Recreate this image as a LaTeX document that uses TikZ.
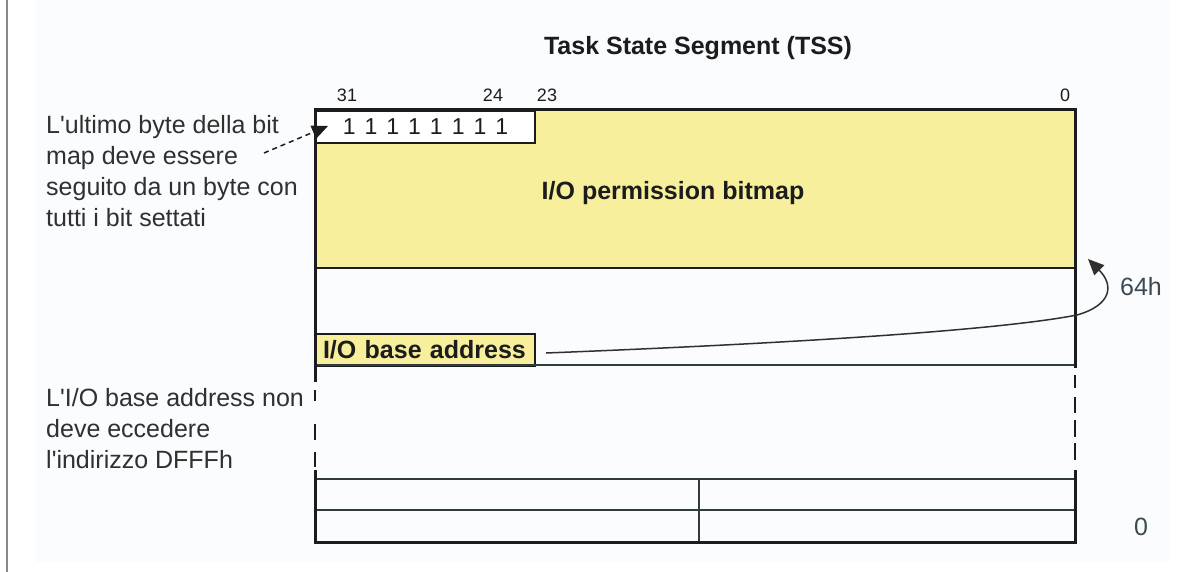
\documentclass[tikz,border=0pt]{standalone}
\usepackage{fontspec}
\setmainfont{Liberation Sans}
\usetikzlibrary{arrows.meta}
\definecolor{panel}{HTML}{FBFCFE}
\definecolor{bitmapyellow}{HTML}{F7EF9B}
\definecolor{ink}{HTML}{1C1C1C}
\definecolor{textgray}{HTML}{303030}
\definecolor{slate}{HTML}{3D4A52}
\definecolor{rulegray}{HTML}{8A8A8A}
\definecolor{rowline}{HTML}{2F3B3F}
\newcommand{\apos}{\textquotesingle}
\begin{document}
\begin{tikzpicture}[x=1pt,y=-1pt,
  note/.style={font=\fontsize{25}{31}\selectfont, text=textgray, inner sep=0pt, align=left},
  boldlabel/.style={font=\fontsize{25}{31}\selectfont\bfseries, text=ink, inner sep=0pt},
  bitno/.style={font=\fontsize{18}{20}\selectfont, text=ink, inner sep=0pt},
  offsetno/.style={font=\fontsize{25}{30}\selectfont, text=slate, inner sep=0pt},
  frame/.style={draw=ink, line width=3pt},
  rowrule/.style={draw=rowline, line width=2pt},
  fieldbox/.style={draw=ink, line width=2pt, minimum height=32pt, inner ysep=0pt},
  tri/.style={-{Triangle[length=16pt,width=14pt]}}
]
\useasboundingbox (0,0) rectangle (1198,572);
\fill[white] (0,0) rectangle (1198,572);
\fill[panel] (36,0) rectangle (1170,562);
\draw[rulegray, line width=2pt] (7,0) -- (7,572);

% title and bit numbers
\node[boldlabel, anchor=base] (title) at (698,55) {Task State Segment (TSS)};
\node[bitno, anchor=base] (b31) at (347,102) {31};
\node[bitno, anchor=base] (b24) at (493,102) {24};
\node[bitno, anchor=base] (b23) at (547,102) {23};
\node[bitno, anchor=base] (b0) at (1065,102) {0};

% I/O permission bitmap area
\fill[bitmapyellow] (315,110) rectangle (1075,268);
\node[fieldbox, fill=white, minimum width=219pt, anchor=north west,
      font=\fontsize{23}{26}\selectfont, text=ink] (allones) at (315,110)
  {1\hspace{9pt}1\hspace{9pt}1\hspace{9pt}1\hspace{9pt}1\hspace{9pt}1\hspace{9pt}1\hspace{9pt}1};
\node[boldlabel, anchor=base] (bitmap) at (673,200) {I/O permission bitmap};

% I/O base address field
\node[fieldbox, fill=bitmapyellow, anchor=north west, text width=205pt, inner xsep=7pt,
      align=left, font=\fontsize{25}{30}\selectfont\bfseries, text=ink] (iobase) at (315,333)
  {I/O base address};

% row rules
\draw[rowrule] (315,365) -- (1075,365);
\draw[rowrule] (315,479) -- (1075,479);
\draw[rowrule] (315,510) -- (1075,510);
\draw[draw=rowline, line width=1.5pt] (699,479) -- (699,542);
\draw[frame, line width=2.5pt] (315,268) -- (1075,268);

% outer frame, broken between the base address and the lower rows
\draw[frame] (315,382) -- (315,110) -- (1075,110) -- (1075,368);
\draw[frame] (315,470) -- (315,542) -- (1075,542) -- (1075,470);
\foreach \a/\b in {390/401, 424/440, 452/467}
  \draw[frame, line width=2.5pt] (315,\a) -- (315,\b);
\foreach \a/\b in {375/388, 397/413, 420/437, 443/460}
  \draw[frame, line width=2.5pt] (1075,\a) -- (1075,\b);

% side notes
\node[note, anchor=north west] (bytenote) at (46,115)
  {L\apos ultimo byte della bit\\map deve essere\\seguito da un byte con\\tutti i bit settati};
\node[note, anchor=north west] (basenote) at (46,388)
  {L\apos I/O base address non\\deve eccedere\\l\apos indirizzo DFFFh};

% offsets
\node[offsetno, anchor=base] (off64) at (1141,295) {64h};
\node[offsetno, anchor=base] (offzero) at (1141,535) {0};

% connectors
\coordinate (notetail) at (264,153);
\draw[ink, line width=1.5pt, dash pattern=on 5pt off 4pt, tri] (notetail) -- ([xshift=13pt,yshift=1pt]allones.west);
\coordinate (offsettip) at (1088,259);
\draw[draw=textgray, line width=1.5pt, tri]
  ([xshift=10pt,yshift=-3pt]iobase.east)
  .. controls (800,343) and (1000,330) .. (1077,315)
  .. controls (1112,305) and (1114,285) .. (offsettip);
\end{tikzpicture}
\end{document}
